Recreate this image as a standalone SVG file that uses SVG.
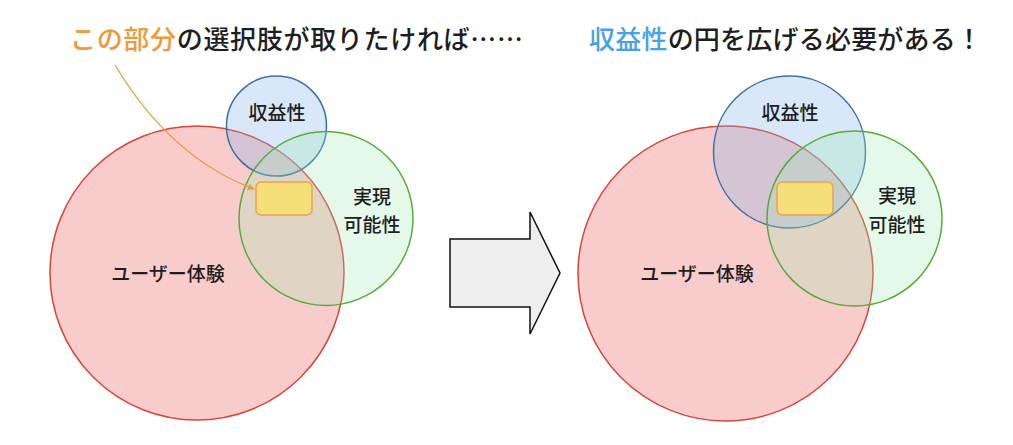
<svg xmlns="http://www.w3.org/2000/svg" width="1013" height="445" viewBox="0 0 1013 445">
<style>
text{font-family:"Noto Sans CJK JP","Noto Sans CJK SC",sans-serif;fill:#1E1E1E;font-weight:500}
.title{font-size:26px}
.lbl{font-size:19px;text-anchor:middle}
.red{fill:#F08080;fill-opacity:0.4;stroke:#D8453A;stroke-width:1.5}
.blue{fill:#7FB3E8;fill-opacity:0.3;stroke:#3E70A8;stroke-width:1.5}
.green{fill:#9EE8B0;fill-opacity:0.27;stroke:#5AAA3A;stroke-width:1.5}
.pick{fill:#F5DF78;stroke:#F0A050;stroke-width:1.5}
</style>
<defs>
<marker id="ah" viewBox="0 0 10 10" refX="9" refY="5" markerWidth="7" markerHeight="7" orient="auto" markerUnits="userSpaceOnUse">
<path d="M0,0 L10,5 L0,10 z" fill="#EE9A3A"/>
</marker>
</defs>
<rect width="1013" height="445" fill="#FFFFFF"/>
<g id="title-left"><text class="title" x="70" y="49" textLength="453" lengthAdjust="spacing"><tspan style="fill:#EE9A3A">この部分</tspan>の選択肢が取りたければ……</text></g>
<g id="title-right"><text class="title" x="589" y="49" textLength="393" lengthAdjust="spacing"><tspan style="fill:#4AA0E8">収益性</tspan>の円を広げる必要がある！</text></g>
<g id="left-ux"><circle class="red" cx="197" cy="273" r="147"/></g>
<g id="left-profit"><circle class="blue" cx="276.5" cy="126" r="50"/></g>
<g id="left-feasible"><circle class="green" cx="326" cy="218.5" r="87"/></g>
<g id="left-pick"><rect class="pick" x="256" y="182" width="56" height="33" rx="5"/></g>
<g id="left-labels">
<text class="lbl" x="277" y="120">収益性</text>
<text class="lbl" x="168" y="281">ユーザー体験</text>
<text class="lbl" x="372" y="204">実現</text>
<text class="lbl" x="372" y="232">可能性</text>
</g>
<g id="right-ux"><circle class="red" cx="725.5" cy="273.5" r="147.5"/></g>
<g id="right-profit"><circle class="blue" cx="789.5" cy="152" r="76"/></g>
<g id="right-feasible"><circle class="green" cx="854.5" cy="218.5" r="87.5"/></g>
<g id="right-pick"><rect class="pick" x="777" y="182" width="56" height="33" rx="5"/></g>
<g id="right-labels">
<text class="lbl" x="790" y="120">収益性</text>
<text class="lbl" x="697" y="281">ユーザー体験</text>
<text class="lbl" x="897" y="203">実現</text>
<text class="lbl" x="897" y="232">可能性</text>
</g>
<g id="big-arrow"><polygon points="450,239 530,239 530,212 560,273 530,334 530,307 450,307" fill="#EEEEEE" stroke="#111" stroke-width="1.5" stroke-linejoin="miter"/></g>
<g id="connectors"><path d="M115,65 C145,115 190,165 254,189" fill="none" stroke="#EE9A3A" stroke-width="1.3" marker-end="url(#ah)"/></g>
</svg>
